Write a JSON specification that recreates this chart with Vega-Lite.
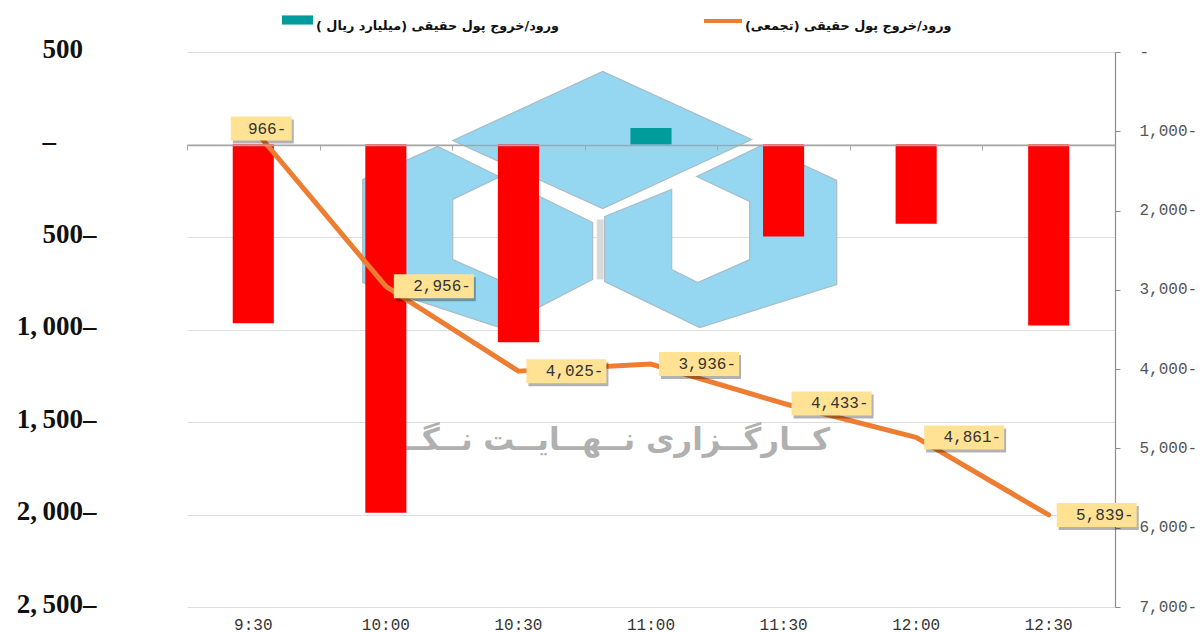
{
"$schema":"https://vega.github.io/schema/vega-lite/v6.json",
"width":928,"height":555,
"autosize":{"type":"none"},
"padding":{"left":187,"top":52,"right":87,"bottom":26},
"background":"white",
"view":{"stroke":null},
"datasets":{
"flows":[
{"time":"9:30","flow":-966,"direction":"out","series":"cumulative","cumulative":-966,"label":"966-"},
{"time":"10:00","flow":-1990,"direction":"out","series":"cumulative","cumulative":-2956,"label":"2,956-"},
{"time":"10:30","flow":-1069,"direction":"out","series":"cumulative","cumulative":-4025,"label":"4,025-"},
{"time":"11:00","flow":89,"direction":"in","series":"cumulative","cumulative":-3936,"label":"3,936-"},
{"time":"11:30","flow":-497,"direction":"out","series":"cumulative","cumulative":-4433,"label":"4,433-"},
{"time":"12:00","flow":-428,"direction":"out","series":"cumulative","cumulative":-4861,"label":"4,861-"},
{"time":"12:30","flow":-978,"direction":"out","series":"cumulative","cumulative":-5839,"label":"5,839-"}
],
"logo":[{"time":"11:00","anchor":-300,"mark_text":"کــارگــزاری  نــهــایــت  نــگــر","text_anchor":-1600}]
},
"resolve":{"scale":{"y":"independent"}},
"layer":[
{"data":{"name":"logo"},
 "mark":{"type":"point","filled":true,"opacity":1,"size":40000,"color":"#95D6F1","stroke":"#A8BCC6","strokeWidth":1.2,
 "shape":"M-1.983,-0.595L-0.483,-1.285L1.007,-0.605L-0.483,0.085ZM-2.883,-0.205L-2.133,-0.535L-0.583,0.225L-0.583,0.795L-1.513,1.275L-2.883,0.825ZM-1.983,-0.005L-1.983,0.595L-1.463,0.825L-1.463,-0.255ZM-0.463,0.165L0.207,-0.105L0.207,0.695L0.467,0.825L0.987,0.595L0.987,0.015L0.457,-0.235L1.107,-0.545L1.857,-0.195L1.857,0.845L0.487,1.275L-0.463,0.815Z"},
 "encoding":{
  "x":{"field":"time","type":"nominal","sort":null,"title":null,
    "scale":{"type":"band","domain":["9:30","10:00","10:30","11:00","11:30","12:00","12:30"],"paddingInner":0.69,"paddingOuter":0.345},
    "axis":{"orient":"top","offset":-93,"labels":false,"title":null,"tickBand":"center","tickOffset":-66.3,"tickSize":-5,"tickColor":"#A6A6A6","tickWidth":1,"domainColor":"#A6A6A6","domainWidth":1.5,"zindex":1,"grid":false}},
  "y":{"field":"anchor","type":"quantitative","scale":{"domain":[-2500,500],"nice":false},"axis":null}
 }},
{"data":{"name":"logo"},
 "mark":{"type":"point","filled":true,"opacity":1,"size":40000,"color":"#D9D9D9","strokeWidth":0,
 "shape":"M-0.543,0.195L-0.473,0.195L-0.473,0.795L-0.543,0.795Z"},
 "encoding":{
  "x":{"field":"time","type":"nominal","sort":null,"title":null,"axis":null},
  "y":{"field":"anchor","type":"quantitative","scale":{"domain":[-2500,500],"nice":false},"axis":null}
 }},
{"data":{"name":"logo"},
 "mark":{"type":"text","align":"right","baseline":"middle","xOffset":179,"font":"DejaVu Sans","fontWeight":"bold","fontSize":31,"color":"#B0B0B0"},
 "encoding":{
  "x":{"field":"time","type":"nominal","sort":null,"title":null,"axis":null},
  "y":{"field":"text_anchor","type":"quantitative","scale":{"domain":[-2500,500],"nice":false},"axis":null},
  "text":{"field":"mark_text"}
 }},
{"data":{"name":"flows"},
 "mark":{"type":"bar"},
 "encoding":{
  "x":{"field":"time","type":"nominal","sort":null,"title":null,
    "axis":{"orient":"bottom","domain":false,"ticks":false,"labelAngle":0,"title":null,"grid":false,"labelFont":"Liberation Mono","labelFontSize":16,"labelColor":"#333333","labelPadding":9}},
  "y":{"field":"flow","type":"quantitative","stack":null,"scale":{"domain":[-2500,500],"nice":false},
    "axis":{"orient":"left","title":null,"values":[500,0,-500,-1000,-1500,-2000,-2500],"domain":false,"ticks":false,"grid":true,"gridColor":"#DDDDDD","gridWidth":1.2,
      "labelFont":"Liberation Serif","labelFontSize":27,"labelFontWeight":"bold","labelColor":"#111111","labelPadding":91,"labelOffset":-3,"labelOverlap":false,"labelFlush":false,"labelBound":false,
      "labelExpr":"datum.value==500 ? '500\u00a0\u00a0\u200b' : datum.value==0 ? '–\u00a0\u00a0\u00a0\u00a0\u00a0\u00a0\u200b' : replace(format(abs(datum.value),','),',',',\u2009')+'–'"}},
  "fill":{"field":"direction","type":"nominal","scale":{"domain":["in","out"],"range":["#009B9B","#FF0000"]},
    "legend":{"orient":"none","legendX":95,"legendY":-42,"title":null,"values":["in"],"padding":0,
      "symbolType":"M-1,-0.65L1,-0.65L1,-0.06L-1,-0.06Z","symbolSize":961,"symbolStrokeWidth":0,"symbolOpacity":1,
      "labelFont":"DejaVu Sans","labelFontWeight":"bold","labelFontSize":12.8,"labelColor":"#111111","labelOffset":3,"labelLimit":400,
      "labelExpr":"'ورود/خروج پول حقیقی (میلیارد ریال )\u200f'"}}
 }},
{"data":{"name":"flows"},
 "mark":{"type":"line","strokeWidth":5,"strokeCap":"round","strokeJoin":"round"},
 "encoding":{
  "x":{"field":"time","type":"nominal","sort":null,"title":null,"axis":null},
  "y":{"field":"cumulative","type":"quantitative","scale":{"domain":[-7000,0],"nice":false},
    "axis":{"orient":"right","title":null,"values":[0,-1000,-2000,-3000,-4000,-5000,-6000,-7000],"grid":false,"domain":true,"domainColor":"#8C8C8C","domainWidth":1.2,"ticks":true,"tickColor":"#8C8C8C","tickSize":5,
      "labelFont":"Liberation Mono","labelFontSize":16,"labelColor":"#555555","labelPadding":19,"labelOffset":-1,"labelAlign":"left","labelOverlap":false,"labelFlush":false,"labelBound":false,
      "labelExpr":"datum.value==0 ? '-' : format(abs(datum.value),',')+'-'"}},
  "stroke":{"field":"series","type":"nominal","scale":{"domain":["cumulative"],"range":["#ED7D31"]},
    "legend":{"orient":"none","legendX":515,"legendY":-47,"title":null,"padding":0,
      "symbolType":"M-1,-0.26L1,-0.26","symbolSize":1444,"symbolStrokeWidth":4,
      "labelFont":"DejaVu Sans","labelFontWeight":"bold","labelFontSize":12.8,"labelColor":"#111111","labelOffset":1,"labelLimit":400,
      "labelExpr":"'ورود/خروج پول حقیقی (تجمعی)\u200f'"}}
 }},
{"data":{"name":"flows"},
 "transform":[{"filter":"datum.time!='9:30'"}],
 "mark":{"type":"tick","size":80,"thickness":24,"xOffset":50,"yOffset":3,"color":"#000000","opacity":0.3},
 "encoding":{
  "x":{"field":"time","type":"nominal","sort":null,"title":null,"axis":null},
  "y":{"field":"cumulative","type":"quantitative","scale":{"domain":[-7000,0],"nice":false},"axis":null}
 }},
{"data":{"name":"flows"},
 "transform":[{"filter":"datum.time=='9:30'"}],
 "mark":{"type":"tick","size":61,"thickness":24,"xOffset":10,"yOffset":3,"color":"#000000","opacity":0.3},
 "encoding":{
  "x":{"field":"time","type":"nominal","sort":null,"title":null,"axis":null},
  "y":{"field":"cumulative","type":"quantitative","scale":{"domain":[-7000,0],"nice":false},"axis":null}
 }},
{"data":{"name":"flows"},
 "transform":[{"filter":"datum.time!='9:30'"}],
 "mark":{"type":"tick","size":80,"thickness":24,"xOffset":48,"color":"#FFE294","opacity":1},
 "encoding":{
  "x":{"field":"time","type":"nominal","sort":null,"title":null,"axis":null},
  "y":{"field":"cumulative","type":"quantitative","scale":{"domain":[-7000,0],"nice":false},"axis":null}
 }},
{"data":{"name":"flows"},
 "transform":[{"filter":"datum.time=='9:30'"}],
 "mark":{"type":"tick","size":61,"thickness":24,"xOffset":8,"color":"#FFE294","opacity":1},
 "encoding":{
  "x":{"field":"time","type":"nominal","sort":null,"title":null,"axis":null},
  "y":{"field":"cumulative","type":"quantitative","scale":{"domain":[-7000,0],"nice":false},"axis":null}
 }},
{"data":{"name":"flows"},
 "transform":[{"filter":"datum.time!='9:30'"}],
 "mark":{"type":"text","align":"right","baseline":"middle","xOffset":85,"font":"Liberation Mono","fontSize":16,"color":"#333333"},
 "encoding":{
  "x":{"field":"time","type":"nominal","sort":null,"title":null,"axis":null},
  "y":{"field":"cumulative","type":"quantitative","scale":{"domain":[-7000,0],"nice":false},"axis":null},
  "text":{"field":"label"}
 }},
{"data":{"name":"flows"},
 "transform":[{"filter":"datum.time=='9:30'"}],
 "mark":{"type":"text","align":"right","baseline":"middle","xOffset":33,"font":"Liberation Mono","fontSize":16,"color":"#333333"},
 "encoding":{
  "x":{"field":"time","type":"nominal","sort":null,"title":null,"axis":null},
  "y":{"field":"cumulative","type":"quantitative","scale":{"domain":[-7000,0],"nice":false},"axis":null},
  "text":{"field":"label"}
 }}
]
}
